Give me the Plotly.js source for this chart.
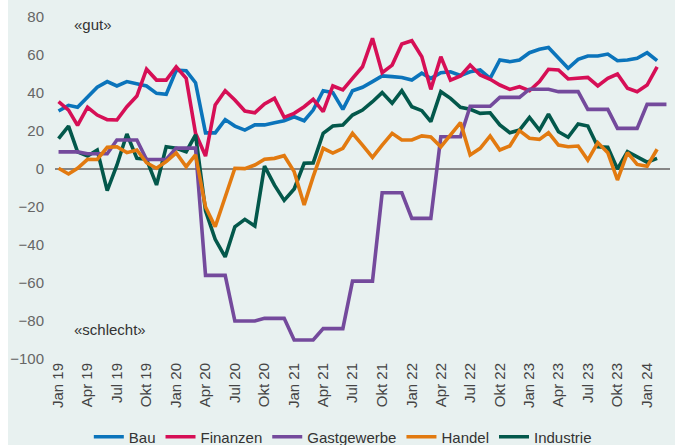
<!DOCTYPE html>
<html>
<head>
<meta charset="utf-8">
<script src="https://cdn.plot.ly/plotly-3.0.1.min.js"></script>
<style>
  html, body { margin: 0; padding: 0; background: #ffffff; }
  #chart { position: absolute; left: 8px; top: 0; width: 667px; height: 445px; }
</style>
</head>
<body>
<div id="chart"></div>
<script>
// Months Jan 2019 .. Mar 2024
const months = [
  '2019-01-01','2019-02-01','2019-03-01','2019-04-01','2019-05-01','2019-06-01','2019-07-01','2019-08-01','2019-09-01','2019-10-01','2019-11-01','2019-12-01',
  '2020-01-01','2020-02-01','2020-03-01','2020-04-01','2020-05-01','2020-06-01','2020-07-01','2020-08-01','2020-09-01','2020-10-01','2020-11-01','2020-12-01',
  '2021-01-01','2021-02-01','2021-03-01','2021-04-01','2021-05-01','2021-06-01','2021-07-01','2021-08-01','2021-09-01','2021-10-01','2021-11-01','2021-12-01',
  '2022-01-01','2022-02-01','2022-03-01','2022-04-01','2022-05-01','2022-06-01','2022-07-01','2022-08-01','2022-09-01','2022-10-01','2022-11-01','2022-12-01',
  '2023-01-01','2023-02-01','2023-03-01','2023-04-01','2023-05-01','2023-06-01','2023-07-01','2023-08-01','2023-09-01','2023-10-01','2023-11-01','2023-12-01',
  '2024-01-01','2024-02-01','2024-03-01'
];

const bau = [30.5,33.5,32.5,38,43,46,43.7,46,44.7,43.7,39.8,39.3,
  52,51.7,45.4,19,19,26,22.6,20.5,23.2,23.2,24.4,25.4,
  27.5,25.4,31,41.2,40.2,31.4,41.2,43,46,49,48.6,48.2,
  46.8,50.4,47.7,50.7,51.2,49.2,51.2,52.1,47.7,57.4,56.5,57.4,
  61.2,63,64,58.7,53,57.7,59.5,59.5,60.5,57,57.4,58.3,
  61.2,57];

const finanzen = [35.4,31,23,32.5,28.4,26,25.8,32.8,38.4,52.5,46.8,46.8,
  53.8,47.7,18.8,6.8,33.7,41.2,36.3,30.5,29.6,34.2,37.2,27.2,
  29.3,32.8,36.7,30.2,43.7,41.6,47.7,53.8,68.8,50.7,54.7,65.8,
  67.5,59.1,41.9,59.1,46.8,49,54.7,49.5,47.2,44.2,41.9,43.3,
  41.2,46,52.5,52.1,47.4,47.7,48.2,43.7,47.7,50,42.5,40.7,
  44.2,53.8];

const gastgewerbe = [9,9,9,8,8,8,15.3,15.3,15.3,5,5,5,
  11,11,11,-56,-56,-56,-80,-80,-80,-78.6,-78.6,-78.6,
  -90,-90,-90,-84,-84,-84,-59,-59,-59,-12.5,-12.5,-12.5,
  -26,-26,-26,17,17,17,33,33,33,37.7,37.7,37.7,
  42,42,42,40.7,40.7,40.7,31.4,31.4,31.4,21.4,21.4,21.4,
  34,34,34];

const handel = [0.4,-2.6,0.4,5.1,5,11.4,11.7,8.6,10,3.3,0.4,3.9,
  8.5,1.2,7.5,-20,-30.4,-15.4,0.4,0.2,2.1,5.1,5.6,7,
  -1.4,-18.9,-4,10.9,8.4,10.9,18.8,12.6,6.1,12.6,18.8,15.3,
  15.3,17.4,16.8,11.7,17.9,24.4,7.4,10.9,17.4,10,12.1,20.2,
  16.2,15.6,19.1,12.6,11.7,12.1,4.7,13.9,8.6,-5.8,8.6,2.4,
  1.4,10.4];

const industrie = [16,22.6,9,6.8,10,-11.4,2,18.4,5.6,5.1,-8.4,11.7,
  10.9,9.1,18,-22,-37,-46.3,-30.4,-26.5,-30,1.5,-8.5,-16.5,
  -10.5,3,3.2,18.8,22.6,23.2,28.4,31,35.4,40.2,34.6,41.2,
  32.8,30.7,24.9,40.7,37.2,32.5,31.4,29.3,29.6,23.2,19.1,20.5,
  27.2,20.5,28.9,19.6,16.7,23.7,22.6,11.7,11.4,0,9.1,6.6,
  3.6,5.6];

const tickDates = ['2019-01-01','2019-04-01','2019-07-01','2019-10-01','2020-01-01','2020-04-01','2020-07-01','2020-10-01',
  '2021-01-01','2021-04-01','2021-07-01','2021-10-01','2022-01-01','2022-04-01','2022-07-01','2022-10-01',
  '2023-01-01','2023-04-01','2023-07-01','2023-10-01','2024-01-01'];
const tickLabels = ['Jan 19','Apr 19','Jul 19','Okt 19','Jan 20','Apr 20','Jul 20','Okt 20',
  'Jan 21','Apr 21','Jul 21','Okt 21','Jan 22','Apr 22','Jul 22','Okt 22',
  'Jan 23','Apr 23','Jul 23','Okt 23','Jan 24'];

const colors = { bau: '#0b74bb', fin: '#d60f56', gast: '#744a9c', handel: '#e27a10', ind: '#03584b' };
const FONT = 'Liberation Sans, Arial, Helvetica, sans-serif';

function tr(name, y, color, rank) {
  return {
    type: 'scatter', mode: 'lines', name: name,
    x: months.slice(0, y.length), y: y,
    line: { color: color, width: 3.6, shape: 'linear' },
    legendrank: rank, hoverinfo: 'skip'
  };
}

const data = [
  tr('Bau', bau, colors.bau, 1),
  tr('Finanzen', finanzen, colors.fin, 2),
  tr('Industrie', industrie, colors.ind, 5),
  tr('Gastgewerbe', gastgewerbe, colors.gast, 3),
  tr('Handel', handel, colors.handel, 4)
];

const layout = {
  width: 667, height: 445,
  paper_bgcolor: '#e8f1f0', plot_bgcolor: '#e8f1f0',
  margin: { l: 47, r: 5, t: 17, b: 86, autoexpand: false },
  font: { family: FONT, size: 15, color: '#333333' },
  showlegend: true,
  legend: {
    orientation: 'h', x: 0.468, xanchor: 'center', y: -0.228, yanchor: 'middle',
    font: { family: FONT, size: 15, color: '#333333' },
    bgcolor: 'rgba(0,0,0,0)', itemclick: false, tracegroupgap: 0
  },
  xaxis: {
    type: 'date',
    range: ['2018-12-21', '2024-03-12'],
    tickmode: 'array', tickvals: tickDates, ticktext: tickLabels,
    tickangle: -90, showgrid: false, zeroline: false, showline: false, ticks: '',
    tickfont: { family: FONT, size: 15, color: '#444444' }
  },
  yaxis: {
    range: [-100, 80], tickmode: 'linear', tick0: 0, dtick: 20,
    showgrid: false, showline: false, ticks: '',
    ticklabelstandoff: 10,
    zeroline: true, zerolinecolor: '#868686', zerolinewidth: 1.6,
    tickfont: { family: FONT, size: 15, color: '#666666' }
  },
  annotations: [
    { text: '«gut»', xref: 'paper', yref: 'paper', x: 0.0276, y: 0.9795, xanchor: 'left', yanchor: 'middle',
      showarrow: false, font: { family: FONT, size: 15, color: '#333333' } },
    { text: '«schlecht»', xref: 'paper', yref: 'paper', x: 0.0276, y: 0.0877, xanchor: 'left', yanchor: 'middle',
      showarrow: false, font: { family: FONT, size: 15, color: '#333333' } }
  ]
};

Plotly.newPlot('chart', data, layout, { staticPlot: true, displayModeBar: false });
</script>
</body>
</html>
